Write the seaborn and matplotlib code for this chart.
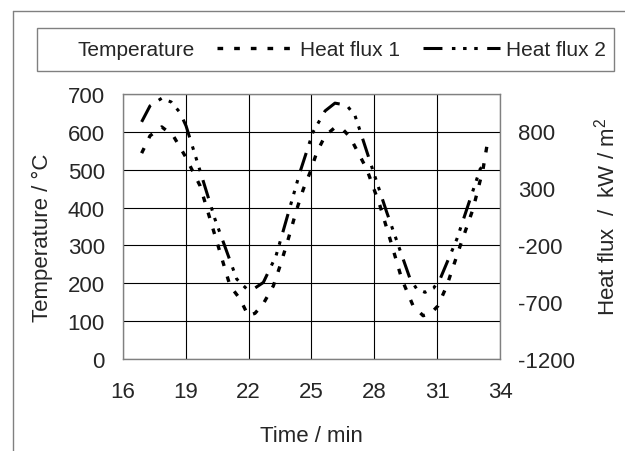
import matplotlib
matplotlib.use("Agg")
import matplotlib.pyplot as plt
from matplotlib.lines import Line2D
from matplotlib.patches import Rectangle
import pandas as pd
import seaborn as sns

# values (heat flux on the right axis, kW/m2)
time_hf1 = [16.89, 17.29, 17.85, 18.40, 18.96, 19.68, 20.63, 21.11, 21.59, 21.98,
            22.30, 22.69, 23.18, 23.50, 23.82, 24.30, 24.61, 24.93, 25.25, 25.65,
            26.12, 26.50, 26.84, 27.64, 28.27, 28.75, 29.31, 29.85, 30.33, 30.70,
            31.04, 31.46, 32.10, 32.71, 33.19, 33.43]
heat_flux_1 = [602, 754, 832, 754, 579, 316, -264, -559, -675, -821,
               -800, -719, -559, -384, -194, 112, 287, 433, 608, 754,
               827, 810, 742, 462, 141, -150, -500, -734, -821, -800,
               -734, -559, -209, 112, 462, 725]

time_hf2 = [16.89, 17.29, 17.85, 18.30, 18.72, 19.01, 19.68, 20.39, 21.43, 21.90,
            22.25, 22.70, 23.30, 23.60, 24.45, 25.07, 25.65, 26.12, 26.68, 27.08,
            27.32, 27.94, 28.59, 29.71, 30.03, 30.42, 30.82, 31.14, 31.94, 33.05,
            33.24]
heat_flux_2 = [876, 1016, 1083, 1050, 958, 841, 447, 25, -500, -585,
               -585, -530, -300, -110, 436, 786, 972, 1040, 1022, 929,
               797, 447, 86, -500, -588, -616, -581, -500, -150, 462,
               506]

temp_ticks = [0, 100, 200, 300, 400, 500, 600, 700]
flux_ticks = [-1200, -700, -200, 300, 800]
time_ticks = [16, 19, 22, 25, 28, 31, 34]

sns.set_style("white")
plt.rcParams['font.family'] = ['Liberation Sans', 'DejaVu Sans']
plt.rcParams['mathtext.fontset'] = 'custom'
plt.rcParams['mathtext.rm'] = 'Liberation Sans'
plt.rcParams['axes.unicode_minus'] = False

fig = plt.figure(figsize=(6.25, 4.52), dpi=100)
ax = fig.add_axes([123 / 625, 1 - 360 / 452, 377 / 625, 265 / 452])
ax2 = ax.twinx()

dot_style = (0, (1.7, 3.3))
dashdot_style = [6.2, 3.1, 1.15, 2.5, 1.15, 2.5, 1.15, 3.1]

df1 = pd.DataFrame({"t": time_hf1, "q": heat_flux_1})
df2 = pd.DataFrame({"t": time_hf2, "q": heat_flux_2})
sns.lineplot(data=df1, x="t", y="q", ax=ax2, color="black", linewidth=2.4,
             linestyle=dot_style)
sns.lineplot(data=df2, x="t", y="q", ax=ax2, color="black", linewidth=2.2)
ax2.lines[1].set_dashes(dashdot_style)

grey = "#808080"
ax.set_xlim(16, 34)
ax.set_ylim(0, 700)
ax.set_xticks(time_ticks)
ax.set_yticks(temp_ticks)
ax.grid(True, color="black", linewidth=0.8)
ax.tick_params(length=0, labelsize=16)
ax.tick_params(axis="y", pad=13)
ax.tick_params(axis="x", pad=16)
for s in ax.spines.values():
    s.set_color(grey)
    s.set_linewidth(1.0)

ax2.set_ylim(-1200, 1120)
ax2.set_yticks(flux_ticks)
ax2.set_yticks([800], minor=True)
ax2.tick_params(axis="y", which="major", length=0, labelsize=16, pad=13)
ax2.tick_params(axis="y", which="minor", length=16, direction="inout",
                color=grey, width=1.0)
for s in ax2.spines.values():
    s.set_visible(False)

ax.set_xlabel("Time / min", fontsize=16)
ax.set_ylabel("Temperature / °C", fontsize=16)
ax2.set_ylabel("Heat flux  /  kW / m$^{2}$", fontsize=16)
ax.xaxis.set_label_coords(0.5, -0.25)
ax.yaxis.set_label_coords(-0.186, 0.46)
ax2.yaxis.set_label_coords(1.247, 0.54)
ax2.set_xlabel("")

# legend entries without frame; the box is drawn separately
handles = [Line2D([], [], color="none"),
           Line2D([], [], color="black", linewidth=2.4, linestyle=dot_style),
           Line2D([], [], color="black", linewidth=2.2, dashes=dashdot_style)]
fig.legend(handles, ["Temperature", "Heat flux 1", "Heat flux 2"],
           loc="center left", ncol=3, fontsize=15, frameon=False,
           bbox_to_anchor=(-6 / 625, 1 - 50.5 / 452),
           handlelength=3.7, handletextpad=0.29, columnspacing=1.1,
           borderpad=0, borderaxespad=0)
fig.add_artist(Rectangle((37 / 625, 1 - 72 / 452), 577 / 625, 43 / 452,
                         transform=fig.transFigure, fill=False,
                         edgecolor=grey, linewidth=1.0))

# outer frame lines (left and top)
fig.add_artist(Line2D([13 / 625, 13 / 625], [0, 1 - 12 / 452],
                      transform=fig.transFigure, color=grey, linewidth=1.0))
fig.add_artist(Line2D([13 / 625, 1], [1 - 12 / 452, 1 - 12 / 452],
                      transform=fig.transFigure, color=grey, linewidth=1.0))

fig.savefig("out.png", dpi=100)
